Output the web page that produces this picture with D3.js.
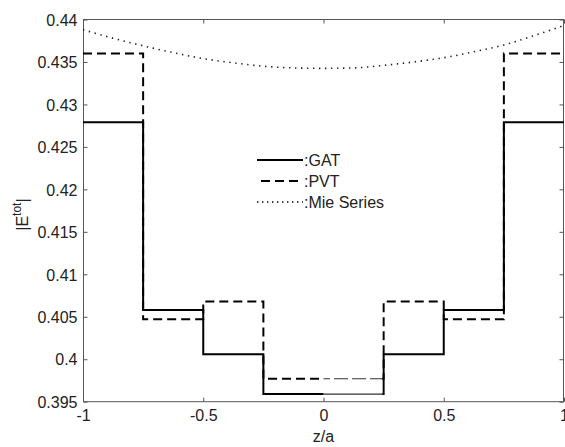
<!DOCTYPE html>
<html>
<head>
<meta charset="utf-8">
<script src="https://cdn.jsdelivr.net/npm/d3@7"></script>
<style>
  html,body{margin:0;padding:0;background:#fff;}
  svg{display:block;}
  text{font-family:"Liberation Sans",Arial,Helvetica,sans-serif;}
</style>
</head>
<body>
<div id="chart"></div>
<script>
// ---------------- data ----------------
const edges = [-1, -0.75, -0.5, -0.25, 0.25, 0.5, 0.75, 1];        // segment boundaries (z/a)
const gatValues = [0.4279, 0.4058, 0.4006, 0.3959, 0.4006, 0.4058, 0.4279];
const pvtValues = [0.4360, 0.4047, 0.4068, 0.3977, 0.4068, 0.4047, 0.4360];
const mieZ = [-1, -0.875, -0.75, -0.625, -0.5, -0.375, -0.25, -0.125, 0,
              0.125, 0.25, 0.375, 0.5, 0.625, 0.75, 0.875, 1];
const mieValues = [0.4388, 0.4378, 0.4369, 0.4361, 0.4354, 0.4349, 0.4345, 0.4343, 0.43425,
                   0.4343, 0.4346, 0.4350, 0.4355, 0.4362, 0.4370, 0.4381, 0.4393];
const xTicks = [-1, -0.5, 0, 0.5, 1];
const xTickLabels = ["-1", "-0.5", "0", "0.5", "1"];
const yTicks = [0.395, 0.4, 0.405, 0.41, 0.415, 0.42, 0.425, 0.43, 0.435, 0.44];
const yTickLabels = ["0.395", "0.4", "0.405", "0.41", "0.415", "0.42", "0.425", "0.43", "0.435", "0.44"];
const legendLabels = [":GAT", ":PVT", ":Mie Series"];

// ---------------- layout ----------------
const W = 565, H = 447;
const L = 83, R = 564, T = 19.5, B = 401.7;
const svg = d3.select("#chart").append("svg").attr("width", W).attr("height", H);

const x = d3.scaleLinear().domain([-1, 1]).range([L, R]);
const y = d3.scaleLinear().domain([0.395, 0.44]).range([B, T]);

const axisColor = "#555";
const textColor = "#222";

// step points
function stepPoints(vals) {
  const pts = vals.map((v, i) => [edges[i], v]);
  pts.push([edges[edges.length - 1], vals[vals.length - 1]]);
  return pts;
}
const stepLine = d3.line().x(d => x(d[0])).y(d => y(d[1])).curve(d3.curveStepAfter);
const smoothLine = d3.line().x(d => x(d[0])).y(d => y(d[1])).curve(d3.curveMonotoneX);

// clip regions: thin rendering band between z=0 and z=0.25 (as in the reference)
const defs = svg.append("defs");
const bandL = x(0), bandR = x(0.25) - 1.5;
defs.append("clipPath").attr("id", "clipThick").append("path")
  .attr("d", `M0,0H${bandL}V${H}H0Z M${bandR},0H${W}V${H}H${bandR}Z`);
defs.append("clipPath").attr("id", "clipThin").append("rect")
  .attr("x", bandL).attr("y", 0).attr("width", bandR - bandL).attr("height", H);
defs.append("clipPath").attr("id", "clipPlot").append("rect")
  .attr("x", L).attr("y", T - 2).attr("width", R - L).attr("height", B - T + 4);

// ---------------- axes box ----------------
const axisG = svg.append("g");
axisG.append("rect").attr("x", L + 0.5).attr("y", T).attr("width", R - L - 1).attr("height", B - T)
  .attr("fill", "none").attr("stroke", axisColor).attr("stroke-width", 1);

function styleAxis(g, showLabels) {
  g.select(".domain").remove();
  g.selectAll(".tick line").attr("stroke", axisColor).attr("stroke-width", 1);
  g.selectAll(".tick text").attr("fill", textColor).attr("font-size", 16)
    .attr("font-family", '"Liberation Sans",Arial,sans-serif');
  if (!showLabels) g.selectAll(".tick text").remove();
}

const xAxisB = d3.axisBottom(x).tickValues(xTicks).tickSizeInner(-4).tickSizeOuter(0)
  .tickPadding(10).tickFormat((d, i) => xTickLabels[i]);
svg.append("g").attr("transform", `translate(0,${B})`).call(xAxisB).call(g => styleAxis(g, true))
  .selectAll(".tick text").attr("dy", null).attr("y", 19);

const xAxisT = d3.axisTop(x).tickValues(xTicks).tickSizeInner(-4).tickSizeOuter(0).tickFormat("");
svg.append("g").attr("transform", `translate(0,${T})`).call(xAxisT).call(g => styleAxis(g, false));

const yAxisL = d3.axisLeft(y).tickValues(yTicks).tickSizeInner(-4).tickSizeOuter(0)
  .tickPadding(6).tickFormat((d, i) => yTickLabels[i]);
svg.append("g").attr("transform", `translate(${L + 0.5},0)`).call(yAxisL).call(g => styleAxis(g, true))
  .selectAll(".tick text").attr("dy", "0.36em").attr("x", -6);

const yAxisR = d3.axisRight(y).tickValues(yTicks).tickSizeInner(-4).tickSizeOuter(0).tickFormat("");
svg.append("g").attr("transform", `translate(${R - 0.5},0)`).call(yAxisR).call(g => styleAxis(g, false));

// ---------------- series ----------------
const plot = svg.append("g").attr("clip-path", "url(#clipPlot)");

// Mie series (dotted)
plot.append("path").datum(mieZ.map((z, i) => [z, mieValues[i]]))
  .attr("d", smoothLine).attr("fill", "none").attr("stroke", "#222")
  .attr("stroke-width", 1.6).attr("stroke-dasharray", "1.4,4.6");

const series = [
  { vals: gatValues, dash: null },
  { vals: pvtValues, dash: "9,5" }
];
series.forEach(s => {
  const pts = stepPoints(s.vals);
  const thick = plot.append("g").attr("clip-path", "url(#clipThick)");
  thick.append("path").datum(pts).attr("d", stepLine).attr("fill", "none")
    .attr("stroke", "#000").attr("stroke-width", 2)
    .attr("stroke-dasharray", s.dash);
  const thin = plot.append("g").attr("clip-path", "url(#clipThin)");
  thin.append("path").datum(pts).attr("d", stepLine).attr("fill", "none")
    .attr("stroke", "#333").attr("stroke-width", 1.2)
    .attr("stroke-dasharray", s.dash ? "14,4" : null);
});

// ---------------- legend ----------------
const legX0 = 257, legX1 = 303, legY = [160, 181, 202];
const legStyles = [
  { w: 2, dash: null, start: 257 },
  { w: 2, dash: "9,5", start: 261 },
  { w: 1.6, dash: "1.4,3.6", start: 257 }
];
legendLabels.forEach((lab, i) => {
  svg.append("line").attr("x1", legStyles[i].start).attr("x2", legX1)
    .attr("y1", legY[i]).attr("y2", legY[i])
    .attr("stroke", "#000").attr("stroke-width", legStyles[i].w)
    .attr("stroke-dasharray", legStyles[i].dash);
  svg.append("text").attr("x", legX1 + 1).attr("y", legY[i]).attr("dy", "0.36em")
    .attr("font-size", 16).attr("fill", textColor).text(lab);
});

// ---------------- axis titles ----------------
svg.append("text").attr("x", (L + R) / 2).attr("y", 442).attr("text-anchor", "middle")
  .attr("font-size", 16).attr("fill", textColor).text("z/a");

const yl = svg.append("text").attr("transform", `translate(28,${(T + B) / 2 + 4}) rotate(-90)`)
  .attr("text-anchor", "middle").attr("font-size", 16).attr("fill", textColor);
yl.append("tspan").text("|E");
yl.append("tspan").attr("font-size", 12).attr("dy", -7).text("tot");
yl.append("tspan").attr("dy", 7).text("|");
</script>
</body>
</html>
